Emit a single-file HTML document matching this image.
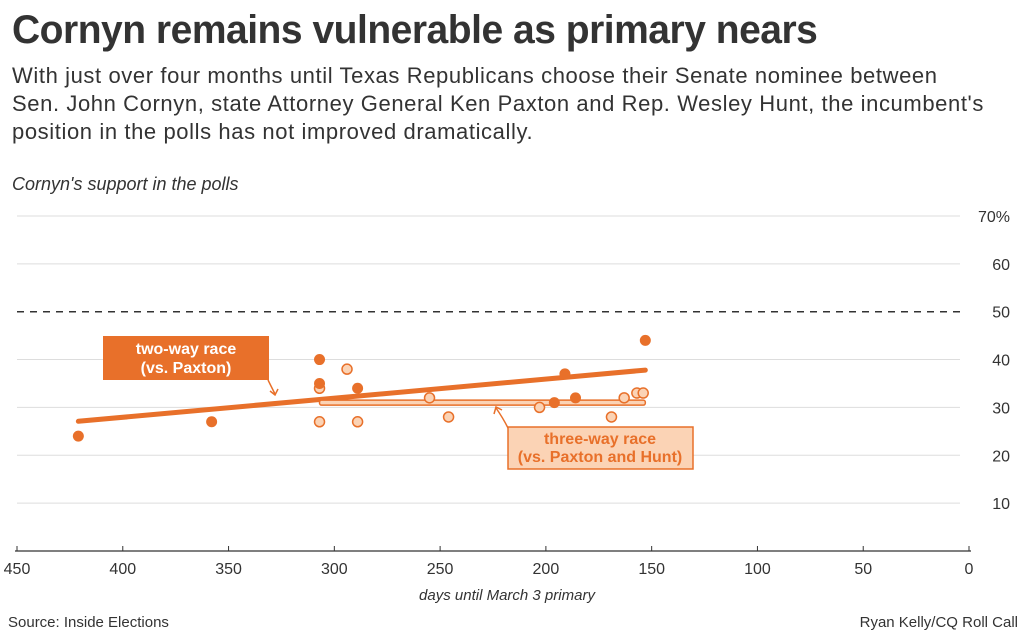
<!DOCTYPE html>
<html><head><meta charset="utf-8"><style>
body{margin:0;background:#fff;font-family:"Liberation Sans",sans-serif;width:1024px;height:635px;overflow:hidden;position:relative}
.t{position:absolute;margin:0}
</style></head><body>
<h1 class="t" style="left:12px;top:8px;font-size:40px;font-weight:bold;color:#333;letter-spacing:-0.5px;transform:scaleX(0.975);transform-origin:left;white-space:nowrap">Cornyn remains vulnerable as primary nears</h1>
<p class="t" style="left:12px;top:62px;font-size:22px;line-height:28px;color:#333;white-space:nowrap;letter-spacing:0.6px">With just over four months until Texas Republicans choose their Senate nominee between<br>Sen. John Cornyn, state Attorney General Ken Paxton and Rep. Wesley Hunt, the incumbent's<br>position in the polls has not improved dramatically.</p>
<p class="t" style="left:12px;top:174px;font-size:18px;font-style:italic;color:#333">Cornyn's support in the polls</p>
<svg id="c" width="1024" height="635" style="position:absolute;left:0;top:0"></svg>
<script>
const NS="http://www.w3.org/2000/svg";
const yTicks=[10,20,30,40,50,60,70];
const xTicks=[450,400,350,300,250,200,150,100,50,0];
const twoDays=[421,358,307,307,289,196,191,186,153];
const twoVals=[24,27,40,35,34,31,37,32,44];
const threeDays=[307,307,294,289,255,246,203,169,163,157,154];
const threeVals=[34,27,38,27,32,28,30,28,32,33,33];
const twoTrendDays=[421,153];
const twoTrendVals=[27.1,37.8];
const threeTrendDays=[307,153];
const threeTrendVals=[31,31];
const X=d=>969-d*(952/450);
const Y=v=>551-v*4.786;
const svg=document.getElementById('c');
function el(t,a,p){const e=document.createElementNS(NS,t);for(const k in a)e.setAttribute(k,a[k]);(p||svg).appendChild(e);return e;}
yTicks.forEach(v=>{
 const l=el('line',{x1:17,x2:960,y1:Y(v),y2:Y(v),stroke:v==50?'#333':'#ddd','stroke-width':v==50?1.5:1,'stroke-dasharray':v==50?'7,6':''});
 
 
 const t=el('text',{x:1010,y:Y(v)+6,'text-anchor':'end','font-size':16,fill:'#333'});
 t.textContent=v+(v==70?'%':'');
 
 
});
const ax=el('line',{x1:15,x2:971,y1:551,y2:551,stroke:'#333','stroke-width':1.2});


xTicks.forEach(d=>{
 el('line',{x1:X(d),x2:X(d),y1:546,y2:551,stroke:'#333'});
 const t=el('text',{x:X(d),y:574,'text-anchor':'middle','font-size':16,fill:'#333'});
 t.textContent=d;
 
 
});
const tr=el('line',{x1:X(twoTrendDays[0]),y1:Y(twoTrendVals[0]),x2:X(twoTrendDays[1]),y2:Y(twoTrendVals[1]),stroke:'#e8702a','stroke-width':5,'stroke-linecap':'round'});


const tr3=el('rect',{x:X(threeTrendDays[0]),y:Y(threeTrendVals[0])-2.5,width:X(threeTrendDays[1])-X(threeTrendDays[0]),height:5,fill:'#fbd3b5',stroke:'#e8702a','stroke-width':1.5,rx:2});


threeDays.forEach((d,i)=>{
 const c=el('circle',{cx:X(d),cy:Y(threeVals[i]),r:5,fill:'#fbd3b5',stroke:'#e8702a','stroke-width':1.5});
 
 
});
twoDays.forEach((d,i)=>{
 const c=el('circle',{cx:X(d),cy:Y(twoVals[i]),r:5.5,fill:'#e8702a'});
 
 
});
const b1=el('rect',{x:103,y:336,width:166,height:44,fill:'#e8702a'});


[['two-way race',354],['(vs. Paxton)',373]].forEach(a=>{const t=el('text',{x:186,y:a[1],'text-anchor':'middle','font-size':16,'font-weight':'bold',fill:'#fff'});t.textContent=a[0];});
el('path',{d:'M268 380 Q272 388 275 394 M270 391 L275 395 L278 389',stroke:'#e8702a',fill:'none','stroke-width':1.5});
const b2=el('rect',{x:508,y:427,width:185,height:42,fill:'#fbd3b5',stroke:'#e8702a','stroke-width':1.5});


[['three-way race',444],['(vs. Paxton and Hunt)',462]].forEach(a=>{const t=el('text',{x:600,y:a[1],'text-anchor':'middle','font-size':16,'font-weight':'bold',fill:'#e8702a'});t.textContent=a[0];});
el('path',{d:'M508 428 Q503 418 496 408 M494 414 L496 407 L502 410',stroke:'#e8702a',fill:'none','stroke-width':1.5});
const xt=el('text',{x:507,y:600,'text-anchor':'middle','font-size':15,'font-style':'italic',fill:'#333'});
xt.textContent='days until March 3 primary';


const s=el('text',{x:8,y:627,'font-size':15,fill:'#333'});s.textContent='Source: Inside Elections';


const cr=el('text',{x:1018,y:627,'text-anchor':'end','font-size':15,fill:'#333'});cr.textContent='Ryan Kelly/CQ Roll Call';


</script>
</body></html>
